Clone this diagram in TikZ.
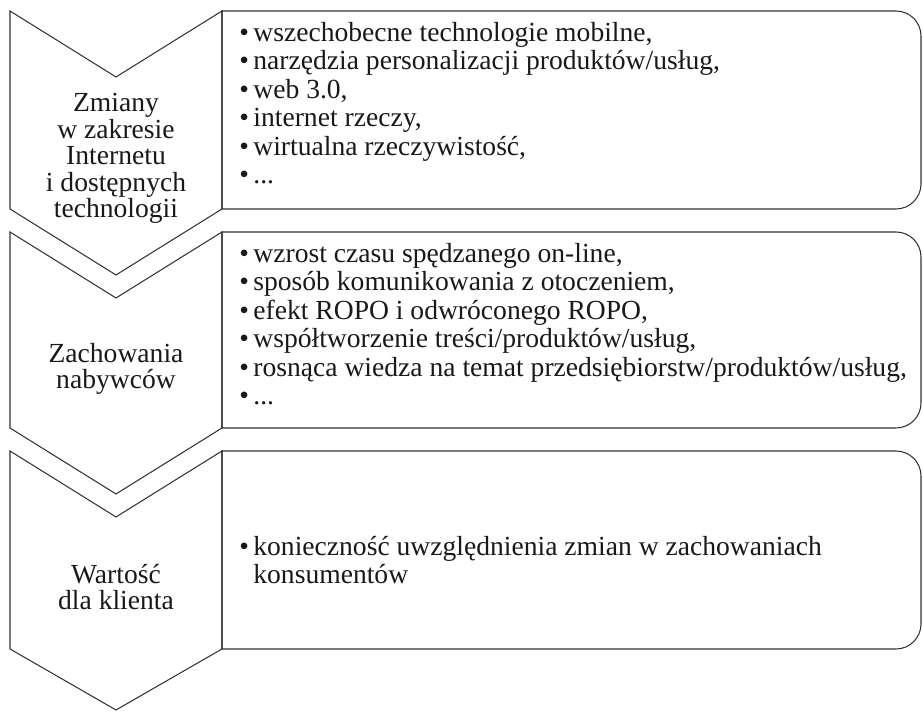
\documentclass[tikz,border=0pt]{standalone}
\usepackage{fontspec}
\setmainfont{Liberation Serif}
\usepackage{tikz}
\usetikzlibrary{positioning}

\tikzset{
  outline/.style={draw=black!80, line width=0.6pt, line join=miter},
  label/.style={anchor=base, inner sep=0pt, font=\fontsize{15.7}{17}\selectfont, text=black!90},
  item/.style={anchor=base west, inner sep=0pt, font=\fontsize{15.7}{17}\selectfont, text=black!90}
}
\newcommand{\bul}{\textbullet\kern2.5pt}

\begin{document}
\begin{tikzpicture}
  \useasboundingbox (0,0) rectangle (18.46,14.24);

  % Chevrons
  \draw[outline] (0.2,14.02) -- (2.32,12.70) -- (4.44,14.02) -- (4.44,10.06) -- (2.32,8.74) -- (0.2,10.06) -- cycle;
  \draw[outline] (0.2,9.60) -- (2.32,8.28) -- (4.44,9.60) -- (4.44,5.68) -- (2.32,4.36) -- (0.2,5.68) -- cycle;
  \draw[outline] (0.2,5.22) -- (2.32,3.90) -- (4.44,5.22) -- (4.44,1.26) -- (2.32,0.04) -- (0.2,1.26) -- cycle;

  % Boxes, rounded on the right only
  \draw[outline] (4.44,10.06) -- (4.44,14.02) [rounded corners=0.5cm] -- (18.42,14.02) -- (18.42,10.06) [sharp corners] -- cycle;
  \draw[outline] (4.44,5.68) -- (4.44,9.60) [rounded corners=0.5cm] -- (18.42,9.60) -- (18.42,5.68) [sharp corners] -- cycle;
  \draw[outline] (4.44,1.26) -- (4.44,5.22) [rounded corners=0.5cm] -- (18.42,5.22) -- (18.42,1.26) [sharp corners] -- cycle;

  % Left labels
  \node[label] (zm1) at (2.32,12.00) {Zmiany};
  \node[label] (zm2) at (2.32,11.46) {w zakresie};
  \node[label] (zm3) at (2.32,10.94) {Internetu};
  \node[label] (zm4) at (2.32,10.40) {i dostępnych};
  \node[label] (zm5) at (2.32,9.88) {technologii};

  \node[label] (za1) at (2.32,6.98) {Zachowania};
  \node[label] (za2) at (2.32,6.46) {nabywców};

  \node[label] (wa1) at (2.32,2.57) {Wartość};
  \node[label] (wa2) at (2.32,2.05) {dla klienta};

  % First box
  \node[item] (t1) at (4.78,13.41) {\bul wszechobecne technologie mobilne,};
  \node[item] (t2) at (4.78,12.84) {\bul narzędzia personalizacji produktów/usług,};
  \node[item] (t3) at (4.78,12.27) {\bul web 3.0,};
  \node[item] (t4) at (4.78,11.70) {\bul internet rzeczy,};
  \node[item] (t5) at (4.78,11.13) {\bul wirtualna rzeczywistość,};
  \node[item] (t6) at (4.78,10.56) {\bul ...};

  % Second box
  \node[item] (b1) at (4.78,8.99) {\bul wzrost czasu spędzanego on-line,};
  \node[item] (b2) at (4.78,8.42) {\bul sposób komunikowania z otoczeniem,};
  \node[item] (b3) at (4.78,7.85) {\bul efekt ROPO i odwróconego ROPO,};
  \node[item] (b4) at (4.78,7.28) {\bul współtworzenie treści/produktów/usług,};
  \node[item] (b5) at (4.78,6.71) {\bul rosnąca wiedza na temat przedsiębiorstw/produktów/usług,};
  \node[item] (b6) at (4.78,6.14) {\bul ...};

  % Third box
  \node[item] (c1) at (4.78,3.12) {\bul konieczność uwzględnienia zmian w zachowaniach};
  \node[item] (c2) at (4.78,2.57) {\phantom{\bul}konsumentów};
\end{tikzpicture}
\end{document}
